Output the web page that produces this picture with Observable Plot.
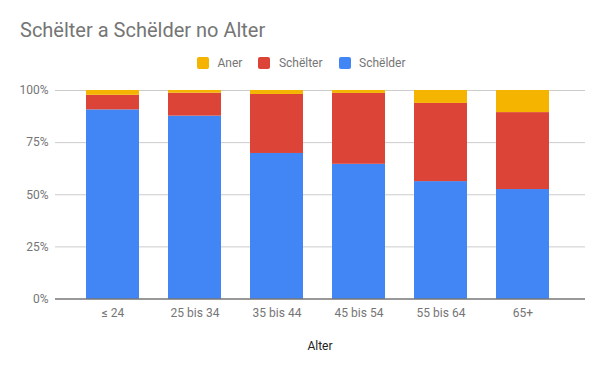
<!DOCTYPE html>
<html>
<head>
<meta charset="utf-8">
<script src="https://cdn.jsdelivr.net/npm/d3@7"></script>
<script src="https://cdn.jsdelivr.net/npm/@observablehq/plot@0.6"></script>
<style>
  html, body { margin: 0; padding: 0; background: #fff; }
  #wrap { position: relative; width: 600px; height: 371px; font-family: Roboto, sans-serif; }
  #chart { position: absolute; left: 0; top: 0; }
  #title { position: absolute; left: 20px; top: 20px; font-size: 20px; line-height: 20px; color: #757575; white-space: nowrap; }
  #legend { position: absolute; left: 197px; top: 57px; display: flex; align-items: center; font-size: 12px; line-height: 12px; color: #757575; }
  #legend .item { display: flex; align-items: center; margin-right: 16px; }
  #legend .sw { width: 12px; height: 12px; border-radius: 2px; margin-right: 8.5px; }
  #xlabel { position: absolute; left: 320px; top: 340px; transform: translateX(-50%); font-size: 12px; line-height: 12px; color: #222; }
</style>
</head>
<body>
<div id="wrap">
  <div id="chart"></div>
  <div id="title">Schëlter a Schëlder no Alter</div>
  <div id="legend"></div>
  <div id="xlabel">Alter</div>
</div>
<script>
const ages = ["≤ 24", "25 bis 34", "35 bis 44", "45 bis 54", "55 bis 64", "65+"];
const schelder = [90.7, 87.7, 69.8, 64.6, 56.3, 52.5];
const schelter = [7.0, 11.0, 28.3, 34.0, 37.5, 36.9];
const aner = [2.3, 1.3, 1.9, 1.4, 6.2, 10.6];
const stackSeries = ["Schëlder", "Schëlter", "Aner"];
const legendSeries = ["Aner", "Schëlter", "Schëlder"];
const seriesColors = {"Schëlder": "#4285F4", "Schëlter": "#DB4437", "Aner": "#F4B400"};
const yTicks = [0, 0.25, 0.5, 0.75, 1];

const valuesBySeries = {"Schëlder": schelder, "Schëlter": schelter, "Aner": aner};
const data = [];
ages.forEach((a, i) => {
  stackSeries.forEach(s => data.push({age: a, series: s, value: valuesBySeries[s][i]}));
});

const chart = Plot.plot({
  width: 600,
  height: 371,
  marginTop: 90,
  marginBottom: 72.5,
  marginLeft: 55,
  marginRight: 15,
  style: {fontFamily: "Roboto, sans-serif", fontSize: "12px", color: "#757575", background: "transparent"},
  x: {domain: ages, range: [69.6, 566.4], paddingInner: 0.348, paddingOuter: 0.174, label: null},
  y: {domain: [0, 1], label: null},
  color: {domain: stackSeries, range: stackSeries.map(s => seriesColors[s])},
  marks: [
    Plot.ruleY(yTicks.filter(d => d > 0), {stroke: "#cccccc", strokeWidth: 1}),
    Plot.barY(data, {x: "age", y: "value", fill: "series", offset: "normalize", order: stackSeries}),
    Plot.ruleY([0], {stroke: "#333333", strokeWidth: 1}),
    Plot.axisX({tickSize: 0, tickPadding: 9, label: null, fill: "#757575"}),
    Plot.axisY({ticks: yTicks, tickSize: 0, tickPadding: 7, tickFormat: d => Math.round(d * 100) + "%", label: null, fill: "#757575"})
  ]
});
document.getElementById("chart").appendChild(chart);

const legend = document.getElementById("legend");
legendSeries.forEach(s => {
  const item = document.createElement("div");
  item.className = "item";
  const sw = document.createElement("div");
  sw.className = "sw";
  sw.style.background = seriesColors[s];
  const t = document.createElement("span");
  t.textContent = s;
  item.appendChild(sw);
  item.appendChild(t);
  legend.appendChild(item);
});
</script>
</body>
</html>
